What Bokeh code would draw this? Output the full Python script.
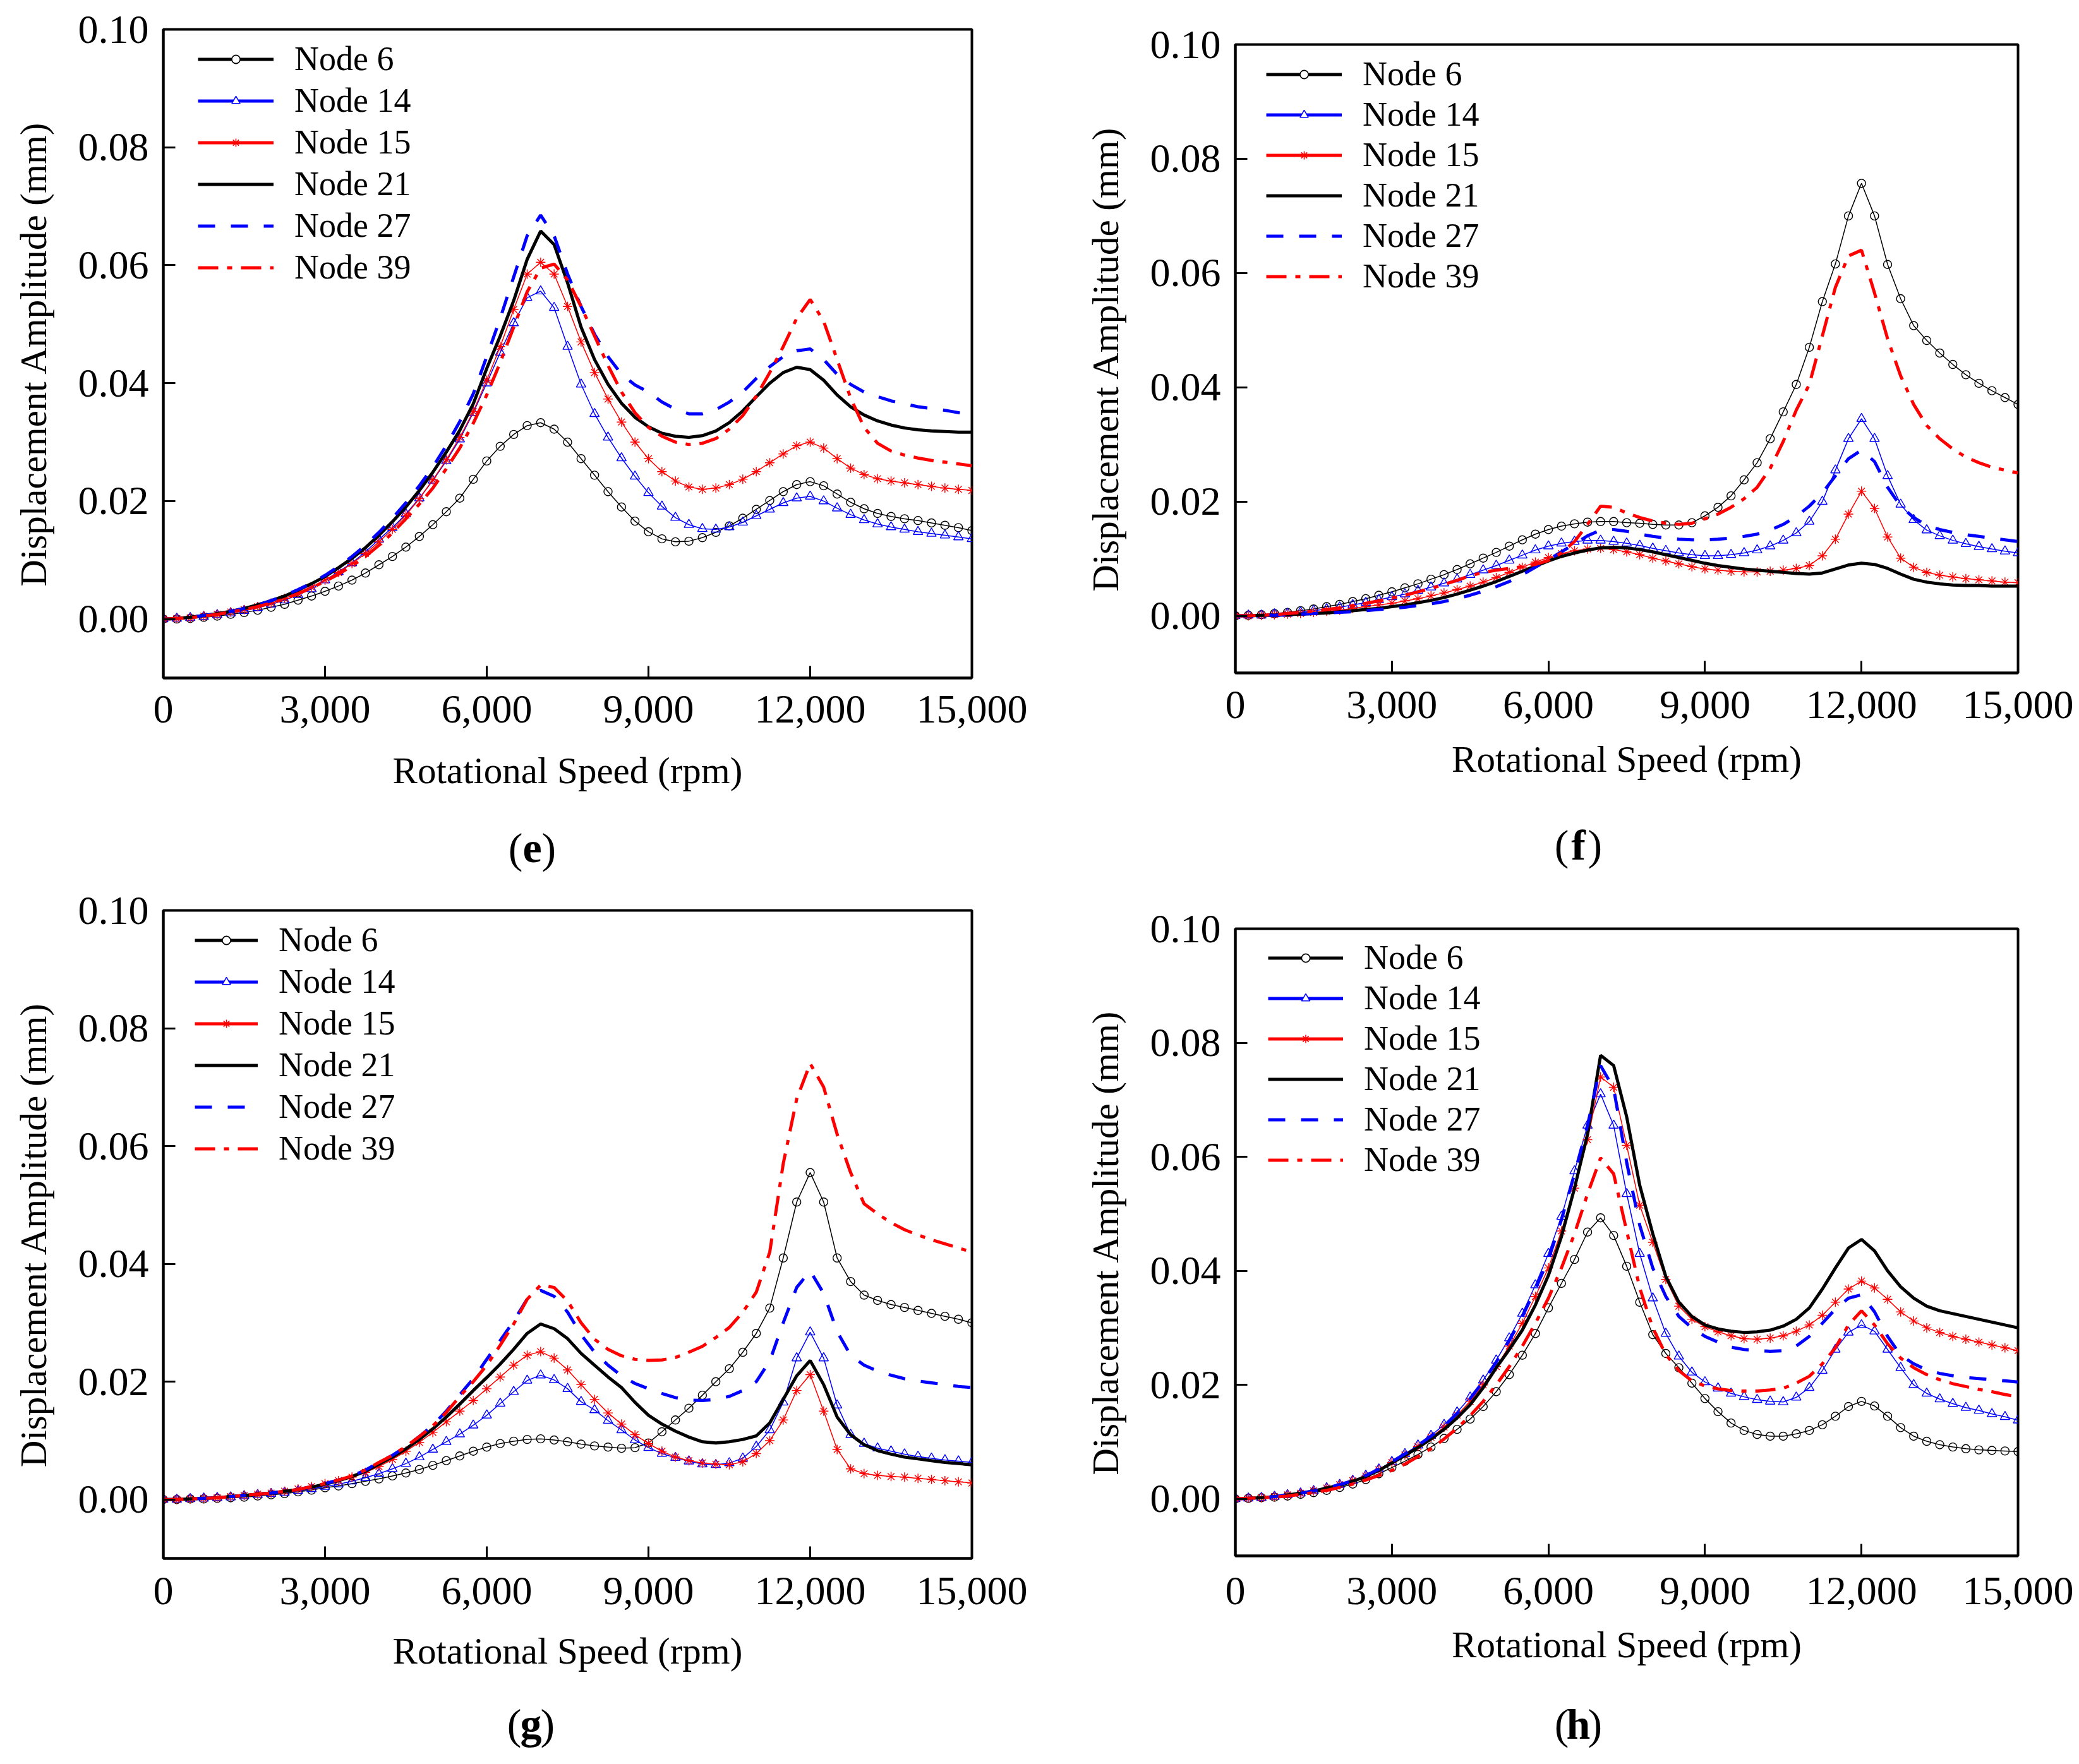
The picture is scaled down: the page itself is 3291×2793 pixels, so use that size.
from bokeh.plotting import figure
from bokeh.models import Legend, LegendItem, Label, FixedTicker, NumeralTickFormatter, Range1d
from bokeh.layouts import column, row
from bokeh.embed import file_html
from bokeh.resources import INLINE

FONT = "Liberation Serif"
NAN = float("nan")

# rotational speed grid (rpm)
rpm = list(range(0, 15001, 250))

series_names = ["Node 6", "Node 14", "Node 15", "Node 21", "Node 27", "Node 39"]
x_ticks = [0, 3000, 6000, 9000, 12000, 15000]
y_ticks = [0.00, 0.02, 0.04, 0.06, 0.08, 0.10]
x_label = "Rotational Speed (rpm)"
y_label = "Displacement Amplitude (mm)"

# ---------------- panel (e) ----------------
e_n6 = [0.0000, 0.0000, 0.0001, 0.0003, 0.0005, 0.0008, 0.0011, 0.0015, 0.0020, 0.0025, 0.0032, 0.0039, 0.0047,
        0.0056, 0.0066, 0.0078, 0.0092, 0.0106, 0.0122, 0.0140, 0.0160, 0.0182, 0.0205, 0.0237, 0.0268,
        0.0293, 0.0313, 0.0328, 0.0333, 0.0322, 0.0300, 0.0272, 0.0244, 0.0216, 0.0190, 0.0166, 0.0148,
        0.0136, 0.0131, 0.0132, 0.0138, 0.0147, 0.0158, 0.0171, 0.0186, 0.0201, 0.0216, 0.0228, 0.0233,
        0.0226, 0.0212, 0.0198, 0.0187, 0.0179, 0.0174, 0.0170, 0.0167, 0.0163, 0.0159, 0.0155, 0.0150]
e_n14 = [0.0000, 0.0001, 0.0002, 0.0004, 0.0007, 0.0010, 0.0014, 0.0019, 0.0025, 0.0032, 0.0041, 0.0051, 0.0066,
         0.0080, 0.0095, 0.0114, 0.0135, 0.0155, 0.0178, 0.0205, 0.0235, 0.0268, 0.0305, 0.0350, 0.0400,
         0.0452, 0.0502, 0.0545, 0.0556, 0.0528, 0.0462, 0.0398, 0.0348, 0.0308, 0.0273, 0.0242, 0.0214,
         0.0191, 0.0172, 0.0160, 0.0153, 0.0152, 0.0156, 0.0164, 0.0175, 0.0186, 0.0197, 0.0205, 0.0208,
         0.0200, 0.0188, 0.0177, 0.0168, 0.0161, 0.0156, 0.0152, 0.0148, 0.0145, 0.0142, 0.0139, 0.0136]
e_n15 = [0.0000, 0.0001, 0.0002, 0.0005, 0.0008, 0.0012, 0.0016, 0.0021, 0.0027, 0.0035, 0.0044, 0.0054, 0.0066,
         0.0079, 0.0094, 0.0111, 0.0131, 0.0152, 0.0176, 0.0204, 0.0236, 0.0270, 0.0308, 0.0352, 0.0405,
         0.0462, 0.0525, 0.0585, 0.0605, 0.0585, 0.0530, 0.0470, 0.0418, 0.0373, 0.0334, 0.0300, 0.0272,
         0.0250, 0.0234, 0.0224, 0.0220, 0.0222, 0.0228, 0.0237, 0.0250, 0.0265, 0.0280, 0.0294, 0.0300,
         0.0290, 0.0272, 0.0256, 0.0245, 0.0238, 0.0234, 0.0231, 0.0228, 0.0225, 0.0222, 0.0220, 0.0218]
e_n21 = [0.0000, 0.0001, 0.0003, 0.0006, 0.0009, 0.0013, 0.0018, 0.0024, 0.0031, 0.0039, 0.0049, 0.0060, 0.0072,
         0.0087, 0.0103, 0.0121, 0.0142, 0.0165, 0.0190, 0.0218, 0.0249, 0.0283, 0.0320, 0.0365, 0.0425,
         0.0480, 0.0540, 0.0610, 0.0658, 0.0635, 0.0570, 0.0495, 0.0440, 0.0398, 0.0366, 0.0342, 0.0326,
         0.0315, 0.0310, 0.0308, 0.0311, 0.0319, 0.0333, 0.0353, 0.0377, 0.0400, 0.0418, 0.0427, 0.0423,
         0.0405, 0.0380, 0.0360, 0.0346, 0.0336, 0.0329, 0.0324, 0.0321, 0.0319, 0.0318, 0.0317, 0.0317]
e_n27 = [0.0000, 0.0001, 0.0003, 0.0006, 0.0009, 0.0013, 0.0018, 0.0024, 0.0031, 0.0040, 0.0050, 0.0061, 0.0074,
         0.0089, 0.0106, 0.0125, 0.0147, 0.0171, 0.0197, 0.0226, 0.0258, 0.0294, 0.0335, 0.0382, 0.0445,
         0.0510, 0.0580, 0.0650, 0.0685, 0.0650, 0.0585, 0.0530, 0.0483, 0.0445, 0.0415, 0.0397, 0.0385,
         0.0368, 0.0356, 0.0348, 0.0348, 0.0355, 0.0368, 0.0385, 0.0408, 0.0428, 0.0445, 0.0455, 0.0458,
         0.0440, 0.0415, 0.0398, 0.0385, 0.0377, 0.0370, 0.0365, 0.0360, 0.0357, 0.0354, 0.0350, 0.0345]
e_n39 = [0.0000, 0.0001, 0.0002, 0.0005, 0.0008, 0.0012, 0.0016, 0.0021, 0.0027, 0.0034, 0.0043, 0.0053, 0.0064,
         0.0076, 0.0090, 0.0106, 0.0125, 0.0146, 0.0170, 0.0195, 0.0222, 0.0255, 0.0290, 0.0332, 0.0380,
         0.0435, 0.0495, 0.0555, 0.0595, 0.0602, 0.0575, 0.0530, 0.0480, 0.0430, 0.0385, 0.0350, 0.0325,
         0.0310, 0.0300, 0.0296, 0.0298, 0.0306, 0.0322, 0.0345, 0.0378, 0.0418, 0.0462, 0.0510, 0.0542,
         0.0505, 0.0440, 0.0375, 0.0325, 0.0298, 0.0285, 0.0278, 0.0273, 0.0269, 0.0266, 0.0263, 0.0260]

# ---------------- panel (f) ----------------
f_n6 = [0.0000, 0.0001, 0.0002, 0.0004, 0.0006, 0.0009, 0.0012, 0.0016, 0.0020, 0.0025, 0.0030, 0.0036, 0.0042,
        0.0049, 0.0056, 0.0064, 0.0072, 0.0081, 0.0091, 0.0101, 0.0111, 0.0122, 0.0133, 0.0143, 0.0151,
        0.0157, 0.0161, 0.0164, 0.0165, 0.0165, 0.0163, 0.0162, 0.0160, 0.0159, 0.0159, 0.0163, 0.0175,
        0.0190, 0.0210, 0.0238, 0.0268, 0.0310, 0.0357, 0.0405, 0.0470, 0.0550, 0.0616, 0.0700, 0.0757,
        0.0700, 0.0615, 0.0555, 0.0508, 0.0482, 0.0460, 0.0440, 0.0422, 0.0407, 0.0394, 0.0382, 0.0370]
f_n14 = [0.0000, 0.0001, 0.0001, 0.0003, 0.0004, 0.0006, 0.0009, 0.0012, 0.0015, 0.0019, 0.0023, 0.0028, 0.0033,
         0.0038, 0.0044, 0.0050, 0.0057, 0.0064, 0.0072, 0.0080, 0.0088, 0.0097, 0.0106, 0.0115, 0.0122,
         0.0127, 0.0130, 0.0132, 0.0132, 0.0130, 0.0127, 0.0123, 0.0118, 0.0114, 0.0110, 0.0107, 0.0105,
         0.0105, 0.0107, 0.0110, 0.0115, 0.0122, 0.0132, 0.0145, 0.0165, 0.0200, 0.0255, 0.0310, 0.0345,
         0.0310, 0.0245, 0.0195, 0.0168, 0.0150, 0.0140, 0.0132, 0.0126, 0.0121, 0.0117, 0.0113, 0.0110]
f_n15 = [0.0000, 0.0000, 0.0001, 0.0002, 0.0003, 0.0004, 0.0006, 0.0008, 0.0010, 0.0013, 0.0016, 0.0019, 0.0022,
         0.0026, 0.0030, 0.0035, 0.0040, 0.0046, 0.0052, 0.0059, 0.0067, 0.0076, 0.0085, 0.0094, 0.0102,
         0.0109, 0.0114, 0.0117, 0.0118, 0.0116, 0.0112, 0.0107, 0.0101, 0.0096, 0.0091, 0.0086, 0.0082,
         0.0080, 0.0078, 0.0077, 0.0077, 0.0078, 0.0080, 0.0083, 0.0088, 0.0105, 0.0134, 0.0178, 0.0218,
         0.0188, 0.0138, 0.0101, 0.0085, 0.0076, 0.0071, 0.0068, 0.0065, 0.0063, 0.0061, 0.0059, 0.0058]
f_n21 = [0.0000, 0.0000, 0.0001, 0.0001, 0.0002, 0.0003, 0.0004, 0.0005, 0.0007, 0.0009, 0.0011, 0.0013, 0.0016,
         0.0019, 0.0023, 0.0027, 0.0032, 0.0038, 0.0045, 0.0052, 0.0060, 0.0069, 0.0078, 0.0087, 0.0096,
         0.0104, 0.0110, 0.0115, 0.0119, 0.0120, 0.0119, 0.0116, 0.0112, 0.0107, 0.0102, 0.0097, 0.0092,
         0.0088, 0.0085, 0.0082, 0.0080, 0.0078, 0.0076, 0.0074, 0.0073, 0.0075, 0.0082, 0.0089, 0.0092,
         0.0090, 0.0083, 0.0073, 0.0064, 0.0059, 0.0056, 0.0054, 0.0053, 0.0053, 0.0052, 0.0052, 0.0052]
f_n27 = [0.0000, 0.0000, 0.0001, 0.0001, 0.0002, 0.0003, 0.0004, 0.0005, 0.0006, 0.0007, 0.0009, 0.0011, 0.0013,
         0.0015, 0.0018, 0.0021, 0.0025, 0.0030, 0.0036, 0.0043, 0.0051, 0.0060, 0.0072, 0.0085, 0.0098,
         0.0112, 0.0126, 0.0140, 0.0150, 0.0151, 0.0148, 0.0143, 0.0139, 0.0136, 0.0134, 0.0133, 0.0133,
         0.0134, 0.0136, 0.0139, 0.0143, 0.0150, 0.0160, 0.0174, 0.0192, 0.0215, 0.0245, 0.0275, 0.0290,
         0.0270, 0.0225, 0.0192, 0.0172, 0.0158, 0.0151, 0.0146, 0.0142, 0.0139, 0.0136, 0.0133, 0.0130]
f_n39 = [0.0000, 0.0000, 0.0001, 0.0002, 0.0004, 0.0006, 0.0008, 0.0011, 0.0014, 0.0018, 0.0022, 0.0026, 0.0031,
         0.0036, 0.0042, 0.0048, 0.0055, 0.0062, 0.0070, 0.0076, 0.0080, 0.0083, 0.0086, 0.0090, 0.0097,
         0.0110, 0.0130, 0.0160, 0.0192, 0.0190, 0.0180, 0.0172, 0.0166, 0.0162, 0.0160, 0.0162, 0.0170,
         0.0178, 0.0190, 0.0205, 0.0225, 0.0258, 0.0305, 0.0360, 0.0405, 0.0490, 0.0575, 0.0630, 0.0640,
         0.0565, 0.0485, 0.0420, 0.0370, 0.0333, 0.0310, 0.0292, 0.0278, 0.0268, 0.0260, 0.0255, 0.0250]

# ---------------- panel (g) ----------------
g_n6 = [0.0000, 0.0000, 0.0001, 0.0001, 0.0002, 0.0003, 0.0004, 0.0006, 0.0008, 0.0010, 0.0013, 0.0016, 0.0020,
        0.0023, 0.0027, 0.0031, 0.0035, 0.0040, 0.0045, 0.0051, 0.0058, 0.0066, 0.0074, 0.0082, 0.0089,
        0.0095, 0.0099, 0.0102, 0.0103, 0.0101, 0.0098, 0.0094, 0.0091, 0.0089, 0.0087, 0.0088, 0.0096,
        0.0115, 0.0135, 0.0155, 0.0177, 0.0200, 0.0222, 0.0250, 0.0282, 0.0325, 0.0410, 0.0505, 0.0555,
        0.0505, 0.0410, 0.0370, 0.0347, 0.0338, 0.0331, 0.0326, 0.0321, 0.0316, 0.0311, 0.0306, 0.0300]
g_n14 = [0.0000, 0.0000, 0.0001, 0.0002, 0.0003, 0.0004, 0.0006, 0.0008, 0.0010, 0.0012, 0.0015, 0.0018, 0.0022,
         0.0026, 0.0031, 0.0037, 0.0044, 0.0052, 0.0061, 0.0072, 0.0085, 0.0098, 0.0111, 0.0126, 0.0143,
         0.0163, 0.0183, 0.0202, 0.0211, 0.0203, 0.0188, 0.0166, 0.0152, 0.0134, 0.0118, 0.0101, 0.0088,
         0.0078, 0.0071, 0.0065, 0.0060, 0.0059, 0.0062, 0.0070, 0.0090, 0.0118, 0.0165, 0.0240, 0.0284,
         0.0240, 0.0160, 0.0110, 0.0095, 0.0087, 0.0082, 0.0077, 0.0073, 0.0070, 0.0067, 0.0065, 0.0063]
g_n15 = [0.0000, 0.0000, 0.0001, 0.0002, 0.0003, 0.0005, 0.0007, 0.0009, 0.0011, 0.0014, 0.0018, 0.0022, 0.0027,
         0.0032, 0.0038, 0.0046, 0.0056, 0.0068, 0.0082, 0.0097, 0.0114, 0.0132, 0.0150, 0.0168, 0.0188,
         0.0208, 0.0228, 0.0245, 0.0251, 0.0240, 0.0220, 0.0195, 0.0170, 0.0147, 0.0128, 0.0110, 0.0095,
         0.0082, 0.0072, 0.0066, 0.0062, 0.0060, 0.0059, 0.0064, 0.0078, 0.0100, 0.0135, 0.0185, 0.0212,
         0.0150, 0.0085, 0.0052, 0.0044, 0.0041, 0.0039, 0.0038, 0.0036, 0.0034, 0.0032, 0.0030, 0.0028]
g_n21 = [0.0000, 0.0000, 0.0001, 0.0002, 0.0003, 0.0005, 0.0007, 0.0009, 0.0011, 0.0014, 0.0017, 0.0021, 0.0026,
         0.0032, 0.0039, 0.0048, 0.0060, 0.0072, 0.0086, 0.0102, 0.0120, 0.0140, 0.0162, 0.0185, 0.0207,
         0.0230, 0.0255, 0.0282, 0.0298, 0.0290, 0.0273, 0.0248, 0.0228, 0.0208, 0.0190, 0.0165, 0.0143,
         0.0128, 0.0116, 0.0106, 0.0098, 0.0096, 0.0098, 0.0102, 0.0108, 0.0130, 0.0170, 0.0210, 0.0236,
         0.0195, 0.0140, 0.0110, 0.0093, 0.0083, 0.0077, 0.0072, 0.0069, 0.0066, 0.0063, 0.0061, 0.0059]
g_n27 = [0.0000, 0.0000, 0.0001, 0.0002, 0.0003, 0.0005, 0.0007, 0.0009, 0.0011, 0.0014, 0.0017, 0.0022, 0.0027,
         0.0033, 0.0040, 0.0050, 0.0063, 0.0075, 0.0090, 0.0107, 0.0126, 0.0150, 0.0178, 0.0205, 0.0238,
         0.0270, 0.0303, 0.0340, 0.0355, 0.0345, 0.0318, 0.0280, 0.0250, 0.0228, 0.0210, 0.0197, 0.0188,
         0.0180, 0.0173, 0.0169, 0.0168, 0.0170, 0.0175, 0.0185, 0.0200, 0.0235, 0.0300, 0.0360, 0.0388,
         0.0350, 0.0285, 0.0245, 0.0228, 0.0218, 0.0211, 0.0205, 0.0201, 0.0198, 0.0195, 0.0192, 0.0190]
g_n39 = [0.0000, 0.0000, 0.0001, 0.0002, 0.0003, 0.0005, 0.0007, 0.0009, 0.0011, 0.0014, 0.0017, 0.0022, 0.0027,
         0.0033, 0.0040, 0.0050, 0.0063, 0.0075, 0.0090, 0.0107, 0.0125, 0.0148, 0.0175, 0.0200, 0.0228,
         0.0262, 0.0298, 0.0340, 0.0364, 0.0360, 0.0337, 0.0300, 0.0272, 0.0255, 0.0244, 0.0238, 0.0236,
         0.0237, 0.0241, 0.0250, 0.0260, 0.0275, 0.0292, 0.0318, 0.0352, 0.0420, 0.0570, 0.0680, 0.0740,
         0.0700, 0.0620, 0.0555, 0.0502, 0.0485, 0.0470, 0.0458, 0.0449, 0.0441, 0.0434, 0.0427, 0.0420]

# ---------------- panel (h) ----------------
h_n6 = [0.0000, 0.0001, 0.0002, 0.0003, 0.0005, 0.0008, 0.0011, 0.0015, 0.0020, 0.0026, 0.0034, 0.0044, 0.0055,
        0.0066, 0.0078, 0.0091, 0.0106, 0.0122, 0.0140, 0.0162, 0.0188, 0.0218, 0.0252, 0.0290, 0.0335,
        0.0378, 0.0420, 0.0468, 0.0493, 0.0462, 0.0408, 0.0345, 0.0288, 0.0255, 0.0230, 0.0203, 0.0176,
        0.0153, 0.0133, 0.0120, 0.0113, 0.0110, 0.0110, 0.0114, 0.0120, 0.0130, 0.0145, 0.0162, 0.0171,
        0.0163, 0.0145, 0.0125, 0.0110, 0.0101, 0.0095, 0.0091, 0.0088, 0.0086, 0.0085, 0.0084, 0.0083]
h_n14 = [0.0000, 0.0001, 0.0002, 0.0004, 0.0007, 0.0010, 0.0014, 0.0019, 0.0025, 0.0032, 0.0041, 0.0052, 0.0065,
         0.0079, 0.0094, 0.0111, 0.0130, 0.0152, 0.0178, 0.0208, 0.0243, 0.0282, 0.0325, 0.0375, 0.0430,
         0.0495, 0.0575, 0.0655, 0.0710, 0.0655, 0.0535, 0.0430, 0.0352, 0.0290, 0.0250, 0.0222, 0.0205,
         0.0194, 0.0185, 0.0179, 0.0174, 0.0171, 0.0170, 0.0178, 0.0195, 0.0225, 0.0262, 0.0292, 0.0305,
         0.0294, 0.0262, 0.0230, 0.0200, 0.0185, 0.0175, 0.0167, 0.0160, 0.0155, 0.0149, 0.0144, 0.0138]
h_n15 = [0.0000, 0.0001, 0.0002, 0.0004, 0.0007, 0.0010, 0.0014, 0.0019, 0.0025, 0.0032, 0.0040, 0.0051, 0.0064,
         0.0077, 0.0092, 0.0108, 0.0126, 0.0147, 0.0171, 0.0200, 0.0232, 0.0268, 0.0308, 0.0355, 0.0405,
         0.0470, 0.0545, 0.0630, 0.0740, 0.0722, 0.0620, 0.0515, 0.0450, 0.0385, 0.0338, 0.0315, 0.0302,
         0.0293, 0.0286, 0.0281, 0.0280, 0.0282, 0.0286, 0.0294, 0.0305, 0.0322, 0.0345, 0.0368, 0.0382,
         0.0370, 0.0350, 0.0328, 0.0312, 0.0300, 0.0292, 0.0285, 0.0280, 0.0275, 0.0270, 0.0265, 0.0260]
h_n21 = [0.0000, 0.0001, 0.0002, 0.0004, 0.0007, 0.0010, 0.0014, 0.0019, 0.0024, 0.0031, 0.0039, 0.0050, 0.0063,
         0.0076, 0.0090, 0.0105, 0.0122, 0.0142, 0.0165, 0.0195, 0.0230, 0.0262, 0.0296, 0.0340, 0.0392,
         0.0460, 0.0545, 0.0640, 0.0778, 0.0760, 0.0670, 0.0550, 0.0465, 0.0390, 0.0345, 0.0320, 0.0305,
         0.0298, 0.0294, 0.0292, 0.0293, 0.0296, 0.0303, 0.0315, 0.0335, 0.0368, 0.0405, 0.0440, 0.0455,
         0.0435, 0.0400, 0.0372, 0.0352, 0.0338, 0.0330, 0.0325, 0.0320, 0.0315, 0.0310, 0.0305, 0.0300]
h_n27 = [0.0000, 0.0001, 0.0002, 0.0004, 0.0007, 0.0010, 0.0014, 0.0019, 0.0025, 0.0032, 0.0041, 0.0052, 0.0065,
         0.0079, 0.0094, 0.0110, 0.0128, 0.0150, 0.0176, 0.0206, 0.0240, 0.0278, 0.0320, 0.0368, 0.0420,
         0.0490, 0.0570, 0.0655, 0.0760, 0.0720, 0.0590, 0.0480, 0.0405, 0.0355, 0.0320, 0.0300, 0.0285,
         0.0275, 0.0266, 0.0262, 0.0260, 0.0259, 0.0260, 0.0268, 0.0285, 0.0308, 0.0333, 0.0352, 0.0358,
         0.0328, 0.0285, 0.0252, 0.0237, 0.0226, 0.0220, 0.0216, 0.0213, 0.0211, 0.0209, 0.0207, 0.0205]
h_n39 = [0.0000, 0.0001, 0.0002, 0.0003, 0.0005, 0.0008, 0.0011, 0.0015, 0.0020, 0.0026, 0.0033, 0.0041, 0.0050,
         0.0061, 0.0074, 0.0088, 0.0105, 0.0124, 0.0146, 0.0171, 0.0200, 0.0232, 0.0268, 0.0308, 0.0352,
         0.0405, 0.0465, 0.0535, 0.0598, 0.0570, 0.0470, 0.0370, 0.0300, 0.0253, 0.0225, 0.0207, 0.0198,
         0.0193, 0.0190, 0.0189, 0.0189, 0.0191, 0.0194, 0.0203, 0.0215, 0.0237, 0.0265, 0.0305, 0.0330,
         0.0305, 0.0272, 0.0247, 0.0230, 0.0218, 0.0209, 0.0202, 0.0197, 0.0192, 0.0188, 0.0183, 0.0179]

panel_letters = ["e", "f", "g", "h"]
panel_series = [
    [e_n6, e_n14, e_n15, e_n21, e_n27, e_n39],
    [f_n6, f_n14, f_n15, f_n21, f_n27, f_n39],
    [g_n6, g_n14, g_n15, g_n21, g_n27, g_n39],
    [h_n6, h_n14, h_n15, h_n21, h_n27, h_n39],
]

# layout geometry (pixels). Columns share left/right borders.
geom = [
    dict(fw=1280, fh=1027, bl=258, br=162, bt=46, bb=197, lx=55, lc=47, pitch=66, gw=120, ts=28, ls=40),
    dict(fw=1239, fh=995, bl=255, br=91, bt=70, bb=205, lx=49, lc=47, pitch=64, gw=120, ts=29, ls=29),
    dict(fw=1280, fh=1026, bl=258, br=162, bt=46, bb=198, lx=50, lc=47, pitch=66, gw=100, ts=30, ls=38),
    dict(fw=1239, fh=993, bl=255, br=91, bt=62, bb=202, lx=52, lc=46, pitch=64, gw=119, ts=34, ls=28),
]
# strips carrying the panel letters: height, label centre (x from frame left, y from top)
strips = [
    dict(h=125, cx=584, cy=72),
    dict(h=138, cx=543, cy=67),
    dict(h=125, cx=582, cy=64),
    dict(h=125, cx=543, cy=64),
]

styles = [
    dict(color="black", marker="circle", msize=13),
    dict(color="#0000ff", marker="triangle", msize=15),
    dict(color="#ff0000", marker="asterisk", msize=15),
    dict(color="black", dash="solid"),
    dict(color="#0000ff", dash="27 25"),
    dict(color="#ff0000", dash="32 14 8 14"),
]


def make_panel(idx):
    g = geom[idx]
    p = figure(frame_width=g["fw"], frame_height=g["fh"], output_backend="svg", toolbar_location=None,
               title=None, x_range=Range1d(0, 15000), y_range=Range1d(-0.01, 0.10),
               min_border_left=g["bl"], min_border_right=g["br"],
               min_border_top=g["bt"], min_border_bottom=g["bb"])
    p.background_fill_color = "white"
    p.border_fill_color = "white"
    p.outline_line_color = "black"
    p.outline_line_width = 4
    p.grid.visible = False

    for ax in (p.xaxis[0], p.yaxis[0]):
        ax.axis_line_width = 4
        ax.major_tick_in = 19
        ax.major_tick_out = 0
        ax.major_tick_line_width = 3
        ax.minor_tick_line_color = None
        ax.major_label_text_font = FONT
        ax.major_label_text_font_size = "64px"
        ax.major_label_text_color = "black"
        ax.axis_label_text_font = FONT
        ax.axis_label_text_font_size = "59px"
        ax.axis_label_text_font_style = "normal"
        ax.axis_label_text_color = "black"

    p.xaxis.ticker = FixedTicker(ticks=x_ticks)
    p.xaxis.formatter = NumeralTickFormatter(format="0,0")
    p.xaxis.major_label_standoff = g["ts"]
    p.xaxis.axis_label = x_label
    p.xaxis.axis_label_standoff = g["ls"]
    p.yaxis.ticker = FixedTicker(ticks=y_ticks)
    p.yaxis.formatter = NumeralTickFormatter(format="0.00")
    p.yaxis.major_label_standoff = 23
    p.yaxis.axis_label = y_label
    p.yaxis.axis_label_standoff = 35

    items = []
    data = panel_series[idx]
    for name, vals, st in zip(series_names, data, styles):
        if "marker" in st:
            p.line(rpm, vals, line_color=st["color"], line_width=1.5)
            p.scatter(rpm, vals, marker=st["marker"], size=st["msize"], line_color=st["color"],
                      fill_alpha=0, line_width=1.4)
            # legend proxies (not drawn in the plot area)
            leg_line = p.line([rpm[0]], [NAN], line_color=st["color"], line_width=5)
            leg_mark = p.scatter([rpm[0]], [NAN], marker=st["marker"], size=st["msize"],
                                 line_color=st["color"], fill_color="white", line_width=1.6)
            items.append(LegendItem(label=name, renderers=[leg_line, leg_mark]))
        else:
            r = p.line(rpm, vals, line_color=st["color"], line_width=5, line_dash=st["dash"])
            items.append(LegendItem(label=name, renderers=[r]))

    leg_h = 6 * g["pitch"]
    top = g["lc"] - g["pitch"] / 2
    legend = Legend(items=items, location=(g["lx"], g["fh"] - top - leg_h),
                    glyph_width=g["gw"], glyph_height=33, label_height=g["pitch"],
                    label_standoff=33, spacing=0, padding=0, margin=0,
                    label_text_font=FONT, label_text_font_size="54px", label_text_color="black",
                    border_line_color=None, background_fill_alpha=0)
    p.add_layout(legend)
    return p


def make_strip(idx):
    g = geom[idx]
    s = strips[idx]
    q = figure(frame_width=g["fw"], frame_height=s["h"], output_backend="svg", toolbar_location=None,
               title=None, x_range=Range1d(0, g["fw"]), y_range=Range1d(0, s["h"]),
               x_axis_type=None, y_axis_type=None,
               min_border_left=g["bl"], min_border_right=g["br"], min_border_top=0, min_border_bottom=0)
    q.outline_line_color = None
    q.grid.visible = False
    common = dict(x=s["cx"], y=s["h"] - s["cy"], text_font=FONT, text_font_size="68px",
                  text_baseline="middle", text_color="black")
    q.add_layout(Label(text=panel_letters[idx], text_align="center", text_font_style="bold", **common))
    q.add_layout(Label(text="(", text_align="right", x_offset=-15, **common))
    q.add_layout(Label(text=")", text_align="left", x_offset=15, **common))
    return q


panels = [make_panel(i) for i in range(4)]
labels = [make_strip(i) for i in range(4)]
layout = row(column(panels[0], labels[0], panels[2], labels[2]),
             column(panels[1], labels[1], panels[3], labels[3]))

open("out.html", "w").write(file_html(layout, INLINE))
